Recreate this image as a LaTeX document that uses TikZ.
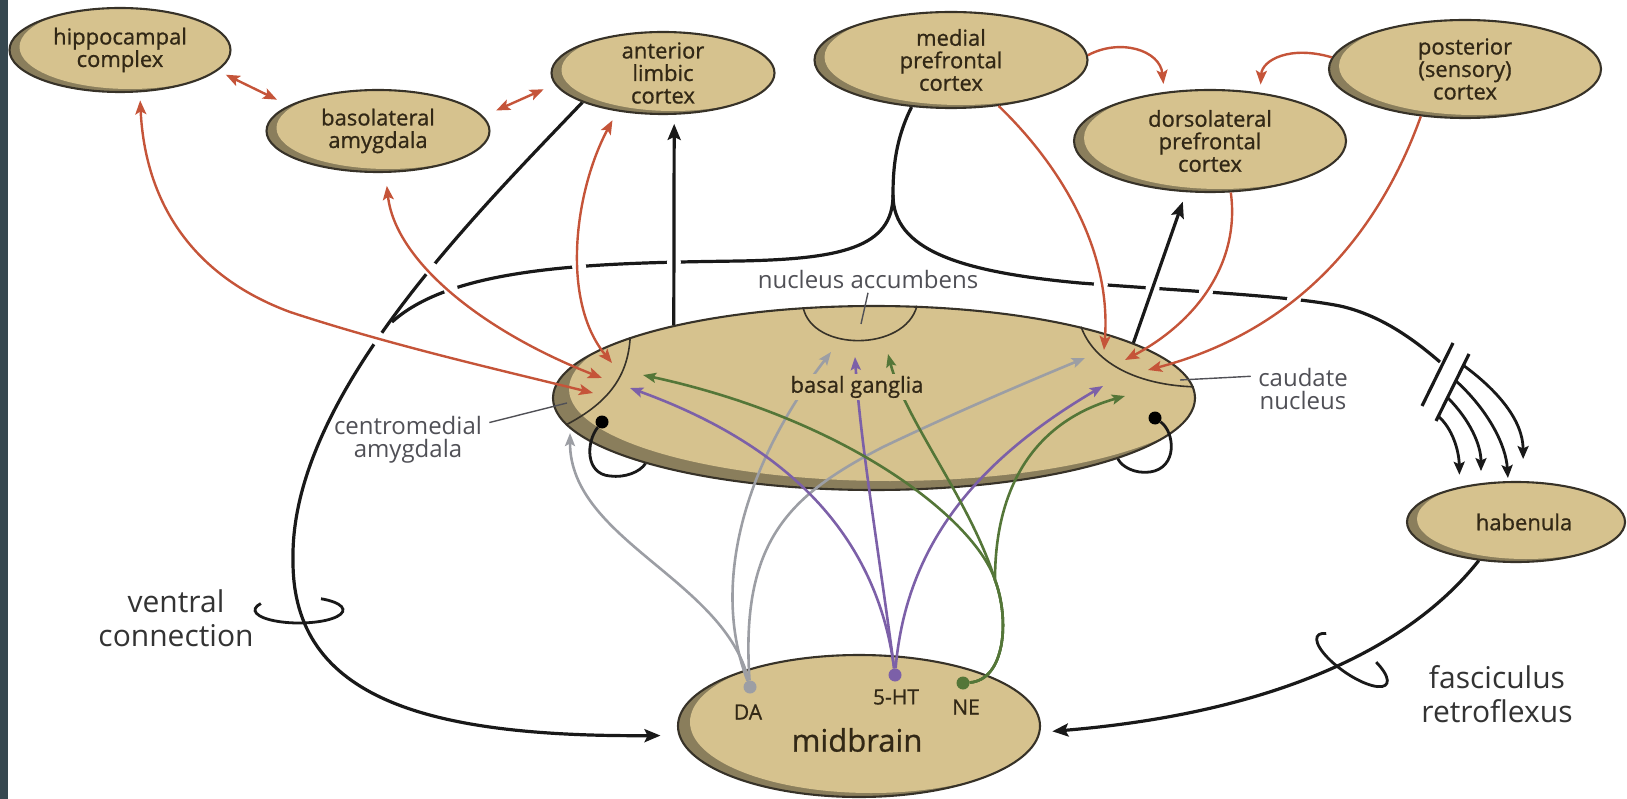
\documentclass[tikz,border=0pt]{standalone}
\usepackage{fontspec}
\setmainfont{Open Sans}
\newfontfamily\labelfont[FakeBold=0.8]{Open Sans}
\usetikzlibrary{shapes.geometric, arrows.meta, calc, intersections}
\definecolor{tanfill}{RGB}{214,194,142}
\definecolor{tanshade}{RGB}{138,126,92}
\definecolor{edgegray}{RGB}{55,50,40}
\definecolor{labelbrown}{RGB}{50,40,22}
\definecolor{notegray}{RGB}{80,80,86}
\definecolor{projred}{RGB}{197,84,57}
\definecolor{htpurple}{RGB}{124,96,168}
\definecolor{negreen}{RGB}{84,118,56}
\definecolor{dagray}{RGB}{156,158,164}
\definecolor{slate}{RGB}{54,71,79}
\pgfdeclarelayer{tractlayer}
\pgfdeclarelayer{gaplayer}
\pgfsetlayers{tractlayer,gaplayer,main}
\tikzset{
    crescent/.style 2 args={
        path picture={
            \fill[tanfill] let \p1=(path picture bounding box.south west),
                \p2=(path picture bounding box.north east) in
                ($(\p1)!.5!(\p2)+(#1,#2)$) ellipse ({(\x2-\x1)/2} and {(\y2-\y1)/2});
        }
    },
    region/.style={
        ellipse, draw=edgegray, line width=2.1pt, fill=tanshade,
        inner sep=0pt, crescent={10pt}{3pt}
    },
    lbl/.style={
        font=\labelfont\fontsize{22}{22.5}\selectfont, text=labelbrown, align=center
    },
    note/.style={
        font=\fontsize{24}{23}\selectfont, text=notegray, align=center
    },
    bignote/.style={
        font=\fontsize{30}{34}\selectfont, text=black!80, align=center
    },
    ptr/.style={draw=notegray, line width=1.4pt},
    tract/.style={draw=black!90, line width=3.2pt},
    blackarrow/.style={tract, ->, >={Stealth[length=16pt,width=13pt,inset=3pt]}},
    habarrow/.style={tract, line width=2.8pt, ->, >={Stealth[length=13pt,width=11pt,inset=2.5pt]}},
    redarrow/.style={draw=projred, line width=2.4pt, >={Stealth[length=14pt,width=11pt,inset=3pt]}},
    modline/.style={draw=#1, line width=2.6pt, ->, >={Stealth[length=13pt,width=10pt,inset=2.5pt]}},
    srcdot/.style={circle, fill=#1, inner sep=0pt, minimum size=13pt},
    loopdot/.style={circle, fill=black, inner sep=0pt, minimum size=13pt}
}
\begin{document}
\begin{tikzpicture}[x=1pt, y=-1pt]
    \useasboundingbox (0,0) rectangle (1627,799);
    \fill[slate] (0,0) rectangle (8,799);

    % ======================================
    % REGIONS
    % ======================================
    \node[region, minimum width=221pt, minimum height=84pt] (hip) at (120,50) {};
    \node[region, minimum width=223pt, minimum height=82pt] (bla) at (378,131) {};
    \node[region, minimum width=223pt, minimum height=82pt] (alc) at (663,73) {};
    \node[region, minimum width=273pt, minimum height=96pt] (mpfc) at (951,60) {};
    \node[region, minimum width=272pt, minimum height=102pt] (dlpfc) at (1210,141) {};
    \node[region, minimum width=272pt, minimum height=98pt] (psc) at (1465,69) {};
    \node[region, minimum width=218pt, minimum height=80pt] (hab) at (1516,522) {};
    \node[region, crescent={12pt}{4pt}, minimum width=362pt, minimum height=142pt] (mid) at (859,726) {};
    \node[region, crescent={16pt}{9pt}, minimum width=642pt, minimum height=184pt] (bg) at (874,398) {};

    % parts of the basal ganglia
    \coordinate (cmPt) at (567,403);
    \coordinate (cdPt) at (1180,380);
    \coordinate (accPt) at (861,324);
    \draw[edgegray, line width=1.6pt] (bg.166) .. controls (628,375) and (610,402) .. (bg.185);
    \draw[edgegray, line width=1.6pt] (bg.19) .. controls (1095,365) and (1140,385) .. (bg.2);
    \draw[edgegray, line width=1.6pt] (bg.128) .. controls (812,352) and (905,352) .. (bg.65);

    % local loops
    \node[loopdot] (lpL) at (602,422) {};
    \node[loopdot] (lpR) at (1155,418) {};
    \draw[tract, line width=2.8pt] (lpL) .. controls (586,442) and (585,474) .. (610,476) .. controls (625,478) and (640,472) .. (bg.196);
    \draw[tract, line width=2.8pt] (lpR) .. controls (1175,432) and (1178,468) .. (1150,472) .. controls (1135,474) and (1122,467) .. (bg.-14);

    % ======================================
    % CORTICAL PROJECTIONS
    % ======================================
    \coordinate (amgR1) at (612,363);
    \coordinate (amgR2) at (602,378);
    \coordinate (amgR3) at (593,393);
    \coordinate (cauR1) at (1104,350);
    \coordinate (cauR2) at (1125,360);
    \coordinate (cauR3) at (1148,370);
    \draw[redarrow, <->, shorten <=8pt, name path=redHip] (hip.-65) .. controls (145,200) and (190,275) .. (290,312) .. controls (390,345) and (500,370) .. (amgR3);
    \draw[redarrow, <->, shorten <=13pt, name path=redBla] (bla.-80) .. controls (395,260) and (480,330) .. (amgR2);
    \draw[redarrow, <->, shorten <=10pt, name path=redAlc] (alc.-140) .. controls (575,190) and (560,300) .. (amgR1);
    \draw[redarrow, <->, shorten <=9pt, shorten >=13pt] (hip.-12) -- (bla.164);
    \draw[redarrow, <->, shorten <=14pt, shorten >=12pt] (bla.8) -- (alc.186);
    \draw[redarrow, ->, name path=redMpf] (mpfc.-44) .. controls (1060,165) and (1112,250) .. (cauR1);
    \draw[redarrow, ->, name path=redDl] (dlpfc.-68) .. controls (1240,260) and (1200,320) .. (cauR2);
    \draw[redarrow, ->, name path=redPs] (psc.-133) .. controls (1380,230) and (1300,330) .. (cauR3);
    \draw[redarrow, ->, shorten >=8pt] (mpfc.2) .. controls (1120,38) and (1160,50) .. (dlpfc.133);
    \draw[redarrow, ->, shorten >=8pt] (psc.175) .. controls (1290,45) and (1262,60) .. (dlpfc.44);

    \draw[blackarrow, shorten >=9pt, name path=upAlc] (bg.160) -- (alc.-75);
    \draw[blackarrow, shorten >=10pt, name path=upDl] (bg.12) -- (dlpfc.-115);

    % ======================================
    % TRACTS (drawn underneath)
    % ======================================
    \coordinate (split) at (893,195);
    \coordinate (brk) at (1440,362);
    \coordinate (s1a) at (1453,343);
    \coordinate (s1b) at (1422,406);
    \coordinate (s2a) at (1469,354);
    \coordinate (s2b) at (1436,421);
    \begin{pgfonlayer}{tractlayer}
        \draw[blackarrow, shorten >=18pt, name path global=tractD] (alc.200) .. controls (470,220) and (290,400) .. (293,560) .. controls (292,700) and (430,737) .. (mid.183);
        \draw[tract] (mpfc.-130) .. controls (895,140) and (893,170) .. (split);
        \draw[tract, name path global=tractL] (split) .. controls (893,248) and (840,259) .. (740,261) .. controls (600,263) and (455,265) .. (392,322);
        \draw[tract, name path global=tractR] (split) .. controls (893,250) and (960,272) .. (1080,283) .. controls (1200,292) and (1290,296) .. (1340,306) .. controls (1385,316) and (1420,345) .. (brk);
    \end{pgfonlayer}
    \draw[tract] (s1a) -- (s1b);
    \draw[tract] (s2a) -- (s2b);
    \draw[habarrow, shorten >=22pt] ($(s2a)!.17!(s2b)$) .. controls (1497,390) and (1523,420) .. (hab.80);
    \draw[habarrow, shorten >=3pt] ($(s2a)!.4!(s2b)$) .. controls (1488,410) and (1506,445) .. (hab.101);
    \draw[habarrow, shorten >=12pt] ($(s2a)!.65!(s2b)$) .. controls (1470,420) and (1481,445) .. (hab.132);
    \draw[habarrow, shorten >=12pt] ($(s2a)!.93!(s2b)$) .. controls (1452,428) and (1459,450) .. (hab.148);

    \draw[blackarrow, shorten >=12pt] (hab.-134) .. controls (1400,660) and (1250,715) .. (mid.-2);
    \draw[tract, line width=2.8pt, shift={(299,610)}] (150:44pt and 13pt) arc[start angle=150, end angle=420, x radius=44pt, y radius=13pt];
    \draw[tract, line width=2.8pt, shift={(1352,660)}, rotate=-35] (150:42pt and 14pt) arc[start angle=150, end angle=420, x radius=42pt, y radius=14pt];

    % ======================================
    % MIDBRAIN PROJECTIONS
    % ======================================
    \node[srcdot=dagray] (da) at (750,687) {};
    \node[srcdot=htpurple] (ht) at (895,675) {};
    \node[srcdot=negreen] (ne) at (963,683) {};
    \coordinate (amgG) at (570,433);
    \coordinate (amgP) at (630,388);
    \coordinate (amgN) at (643,375);
    \coordinate (accG) at (831,352);
    \coordinate (accP) at (855,357);
    \coordinate (accN) at (888,354);
    \coordinate (cauG) at (1085,358);
    \coordinate (cauP) at (1103,386);
    \coordinate (cauN) at (1125,396);
    \draw[modline=dagray] (da) .. controls (725,580) and (570,540) .. (amgG);
    \draw[modline=dagray] (da) .. controls (712,590) and (740,470) .. (accG);
    \draw[modline=dagray] (da) .. controls (740,540) and (790,495) .. (883,447) .. controls (950,415) and (1020,385) .. (cauG);
    \draw[modline=htpurple] (ht) .. controls (880,560) and (815,455) .. (amgP);
    \draw[modline=htpurple] (ht) .. controls (880,560) and (860,440) .. (accP);
    \draw[modline=htpurple] (ht) .. controls (905,560) and (960,470) .. (cauP);
    \draw[modline=negreen] (ne) .. controls (1005,680) and (1010,620) .. (995,580) .. controls (975,520) and (850,420) .. (amgN);
    \draw[modline=negreen] (ne) .. controls (1005,680) and (1010,620) .. (995,580) .. controls (970,500) and (905,420) .. (accN);
    \draw[modline=negreen] (ne) .. controls (1005,680) and (1010,620) .. (995,580) .. controls (995,480) and (1040,420) .. (cauN);

    % ======================================
    % TEXT
    % ======================================
    \node[lbl] (hipText) at (hip) {hippocampal\\complex};
    \node[lbl] (blaText) at (bla) {basolateral\\amygdala};
    \node[lbl] (alcText) at (alc) {anterior\\limbic\\cortex};
    \node[lbl] (mpfcText) at (mpfc) {medial\\prefrontal\\cortex};
    \node[lbl] (dlpfcText) at (dlpfc) {dorsolateral\\prefrontal\\cortex};
    \node[lbl] (pscText) at (psc) {posterior\\(sensory)\\cortex};
    \node[lbl] (habText) at ([xshift=8pt]hab.center) {habenula};
    \node[lbl, fill=tanfill, inner sep=2pt] (bgText) at (857,387) {basal ganglia};
    \node[lbl, font=\labelfont\fontsize{21}{21}\selectfont] (daText) at (748,712) {DA};
    \node[lbl, font=\labelfont\fontsize{21}{21}\selectfont] (htText) at (896,697) {5-HT};
    \node[lbl, font=\labelfont\fontsize{21}{21}\selectfont] (neText) at (966,707) {NE};
    \node[lbl, font=\labelfont\fontsize{31}{31}\selectfont] (midText) at (857,740) {midbrain};

    \node[note] (cmText) at (408,440) {centromedial\\amygdala};
    \node[note] (cdText) at (1303,389) {caudate\\nucleus};
    \node[note] (naText) at (868,280) {nucleus accumbens};
    \draw[ptr, shorten <=4pt] (cmText.12) -- (cmPt);
    \draw[ptr, shorten <=4pt] (cdText.165) -- (cdPt);
    \draw[ptr] (naText.south) -- (accPt);
    \node[bignote] (vcText) at (176,618) {ventral\\connection};
    \node[bignote] (frText) at (1497,694) {fasciculus\\retroflexus};

    % gaps where lines pass over the tracts
    \begin{pgfonlayer}{gaplayer}
        \fill[white, name intersections={of=tractD and redHip, by=g1}] (g1) circle (7pt);
        \fill[white, name intersections={of=tractD and redBla, by=g2}] (g2) circle (7pt);
        \fill[white, name intersections={of=tractL and redBla, by=g3}] (g3) circle (7pt);
        \fill[white, name intersections={of=tractL and redAlc, by=g4}] (g4) circle (7pt);
        \fill[white, name intersections={of=tractL and upAlc, by=g5}] (g5) circle (7pt);
        \fill[white, name intersections={of=tractR and redMpf, by=g6}] (g6) circle (7pt);
        \fill[white, name intersections={of=tractR and upDl, by=g7}] (g7) circle (7pt);
        \fill[white, name intersections={of=tractR and redDl, by=g8}] (g8) circle (7pt);
        \fill[white, name intersections={of=tractR and redPs, by=g9}] (g9) circle (7pt);
    \end{pgfonlayer}
\end{tikzpicture}
\end{document}
